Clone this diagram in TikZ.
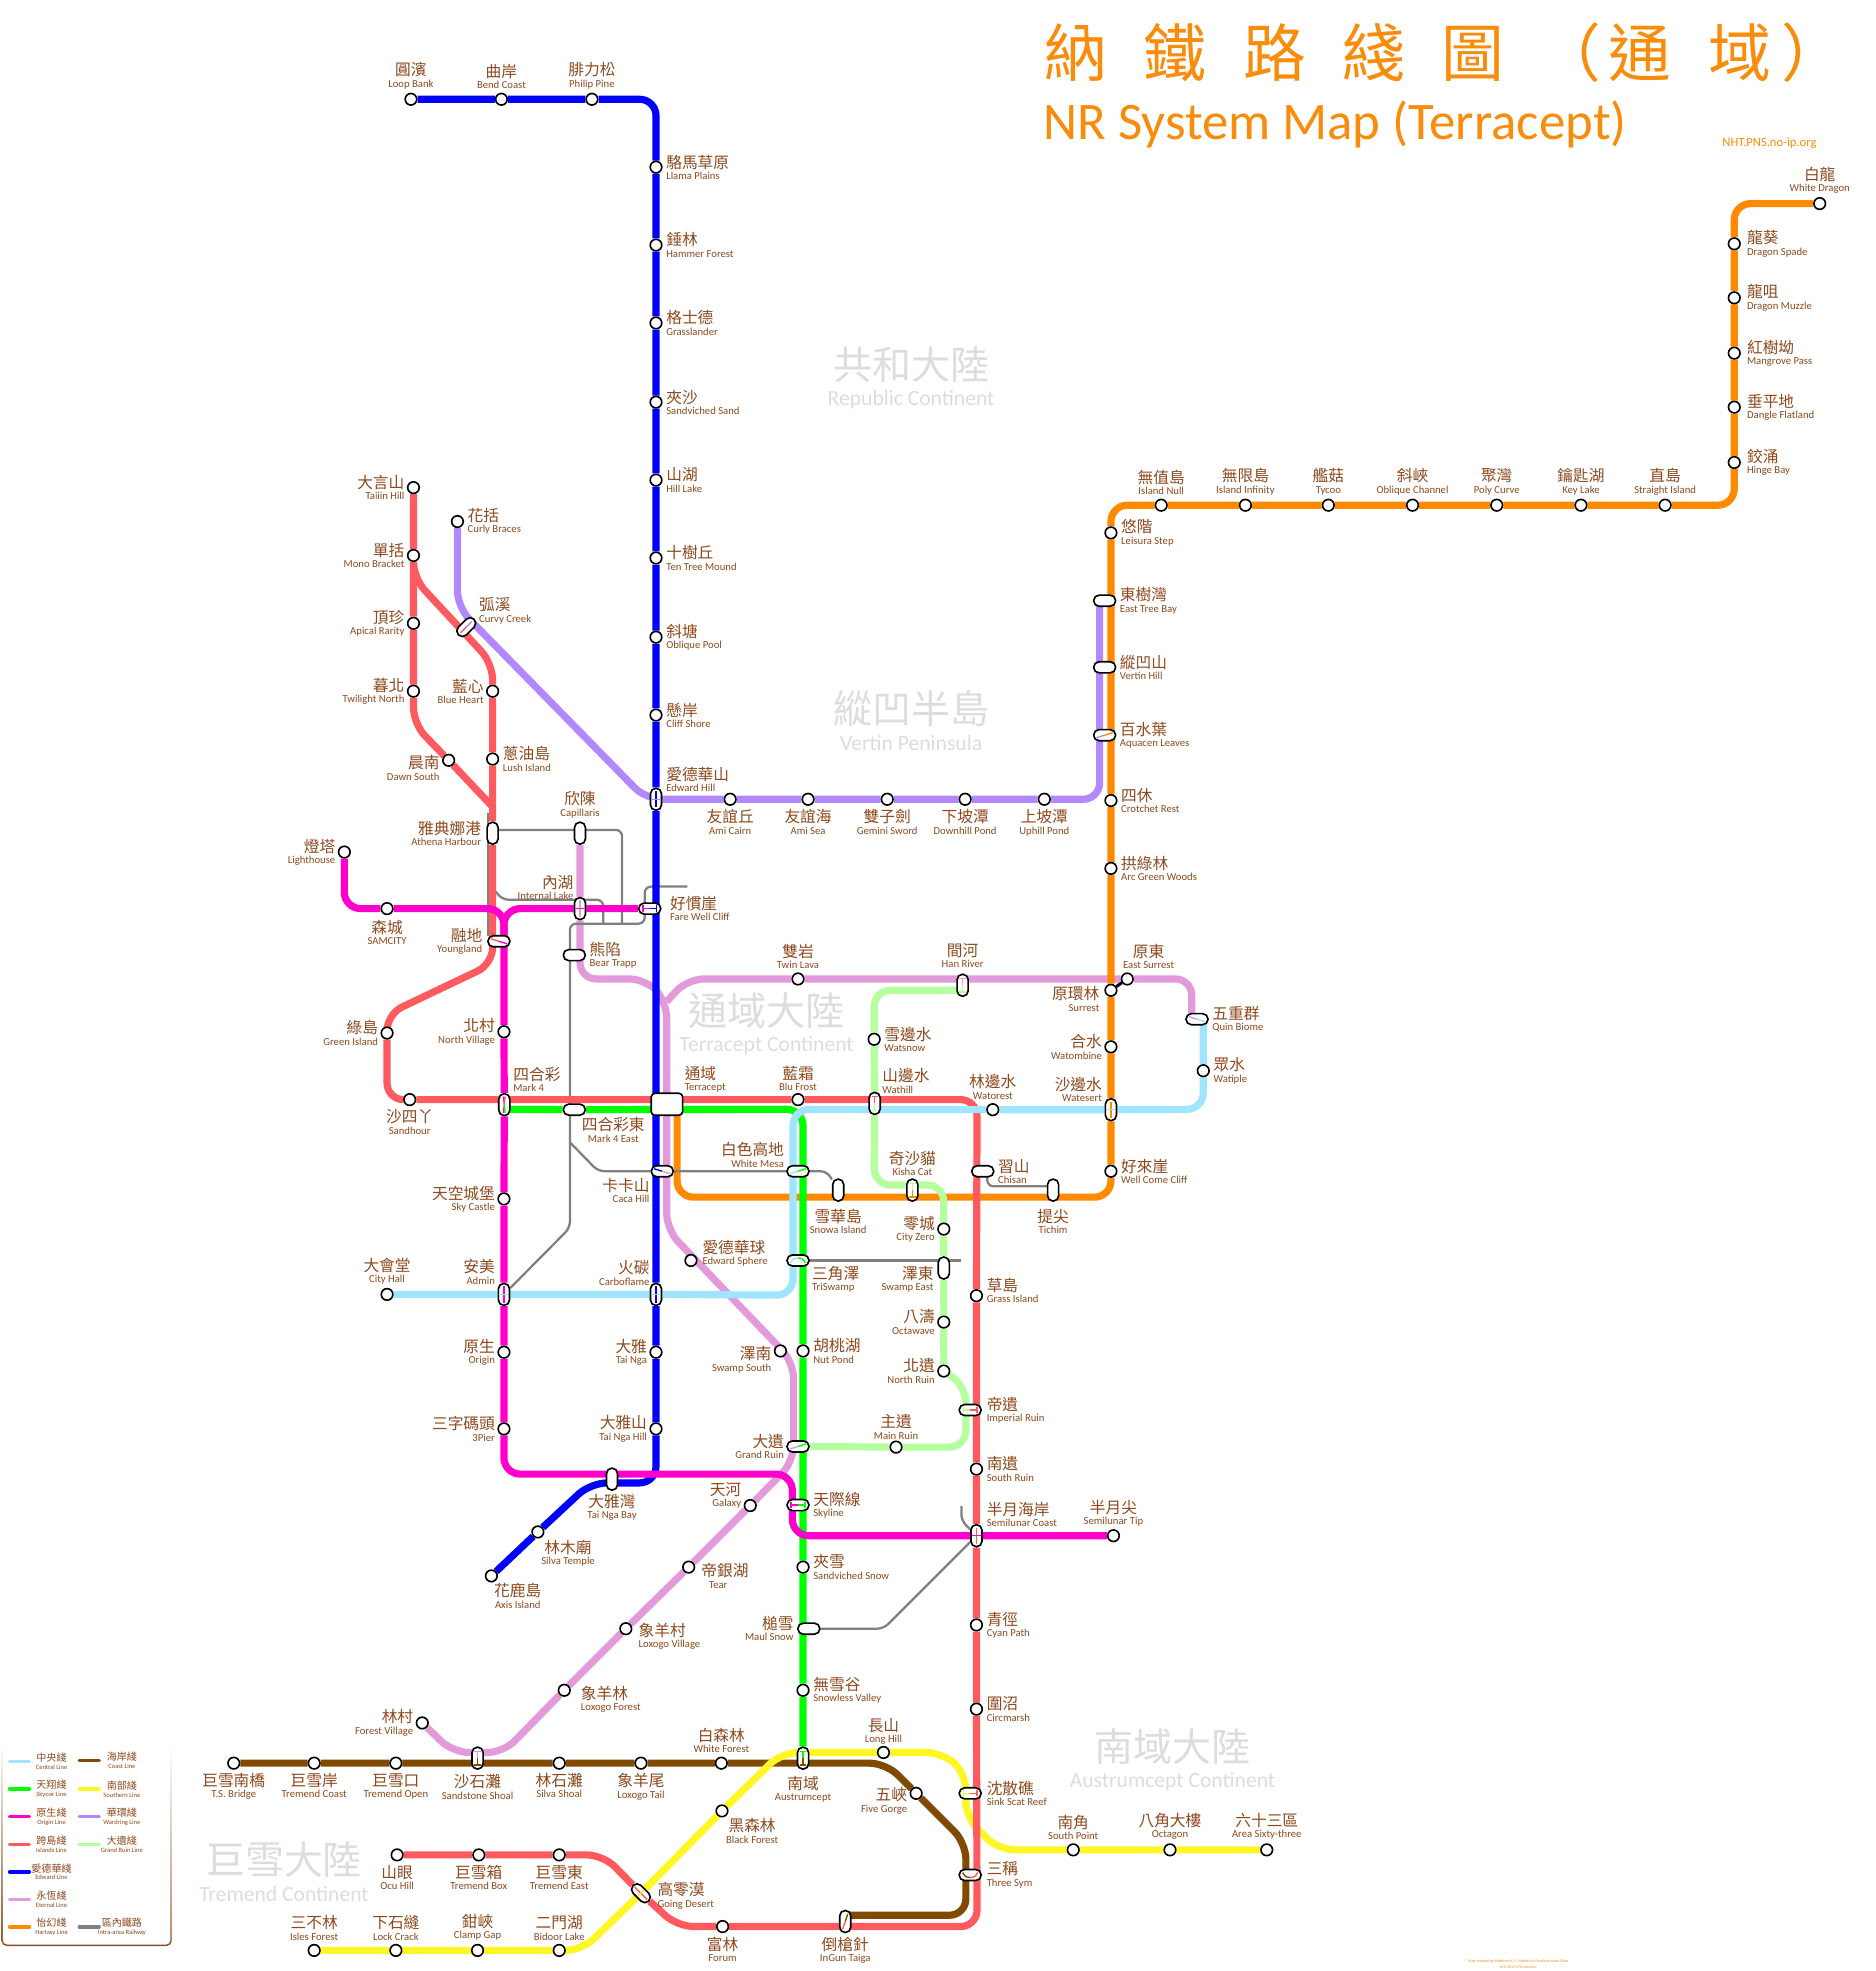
\documentclass[tikz,border=0pt]{standalone}
\usepackage{fontspec}
\usetikzlibrary{backgrounds,arrows.meta}
\newfontfamily\zhfont{Noto Sans CJK TC}
\newfontfamily\enfont{Carlito}

\definecolor{cCentral}{HTML}{9FE5FF}
\definecolor{cSkyoar}{HTML}{00FF00}
\definecolor{cOrigin}{HTML}{FF00CC}
\definecolor{cIslands}{HTML}{FF5A5F}
\definecolor{cEdward}{HTML}{0000FF}
\definecolor{cEternal}{HTML}{E29ADB}
\definecolor{cHartasy}{HTML}{FF8A00}
\definecolor{cCoast}{HTML}{804A00}
\definecolor{cSouthern}{HTML}{FFF724}
\definecolor{cWardring}{HTML}{B388FF}
\definecolor{cGrandRuin}{HTML}{B5FF9F}
\definecolor{cIntra}{HTML}{808080}
\definecolor{cLabel}{HTML}{8E4A1E}
\definecolor{cTitle}{HTML}{F98C0A}
\definecolor{cLand}{HTML}{DDDDDD}

\tikzset{
  stn/.style={circle,draw=black,fill=white,line width=1.3pt,inner sep=0pt,minimum size=9.2pt},
  capv/.style={rectangle,draw=black,fill=white,line width=1.3pt,inner sep=0pt,minimum width=8.8pt,minimum height=17.5pt,rounded corners=4.3pt},
  caph/.style={rectangle,draw=black,fill=white,line width=1.3pt,inner sep=0pt,minimum width=17.5pt,minimum height=8.8pt,rounded corners=4.3pt},
  hub/.style={rectangle,draw=black,fill=white,line width=1.3pt,inner sep=0pt,minimum width=25pt,minimum height=17.5pt,rounded corners=3pt},
  tag/.style={inner sep=0pt,text=cLabel,font=\enfont\fontsize{8.5}{9}\selectfont},
  lr/.style={anchor=west,xshift=8pt,align=left},
  ll/.style={anchor=east,xshift=-7pt,align=right},
  la/.style={anchor=south,yshift=8pt,align=center},
  lb/.style={anchor=north,yshift=-8pt,align=center},
  rail/.style={line width=5.7pt,rounded corners=13pt},
  intra/.style={draw=cIntra,line width=1.8pt,rounded corners=5pt},
  mk/.style={line width=1.1pt},
  tick/.style={-{Bar[width=5pt]}},
  land/.style={text=cLand,inner sep=0pt},
  swatch/.style={line width=2.6pt,line cap=round},
  keytag/.style={inner sep=0pt,text=cLabel,align=center,font=\enfont\fontsize{5.2}{6.2}\selectfont}
}

% station: style, name, position, label place, chinese, english
\newcommand{\stn}[6][stn]{%
  \node[#1] (#2) at (#3) {};
  \node[tag,#4] (#2t) at (#2) {{\zhfont\fontsize{12.5}{12.5}\selectfont #5}\\#6};}
\newcommand{\xlink}[6][]{%
  \draw[mk,#1,draw=#3,shift={(#2.center)}] (0,0) -- (#4);
  \draw[mk,#1,draw=#5,shift={(#2.center)}] (0,0) -- (#6);}
\newcommand{\xcross}[3]{%
  \draw[mk,draw=#2,shift={(#1.center)}] (0,-6.5) -- (0,6.5);
  \draw[mk,draw=#3,shift={(#1.center)}] (-3.5,0) -- (3.5,0);}
\newcommand{\xarc}[5]{%
  \draw[mk,draw=#2,shift={(#1.center)}] (-6,#4) .. controls (-4,#5) and (-2,#5) .. (0,#5);
  \draw[mk,draw=#3,shift={(#1.center)}] (6,#4) .. controls (4,#5) and (2,#5) .. (0,#5);}

\begin{document}
\begin{tikzpicture}[x=1pt,y=-1pt]
\useasboundingbox (0,0) rectangle (1492.8,1568.4);

% Edward line
\stn{loopbank}{327,79}{la}{圓濱}{Loop Bank}
\stn{bendcoast}{399,79}{la}{曲岸}{Bend Coast}
\stn{philippine}{471,79}{la}{腓力松}{Philip Pine}
\stn{llama}{522,133}{lr}{駱馬草原}{Llama Plains}
\stn{hammer}{522,195}{lr}{錘林}{Hammer Forest}
\stn{grassl}{522,257}{lr}{格士德}{Grasslander}
\stn{sandsand}{522,320}{lr}{夾沙}{Sandviched Sand}
\stn{hilllake}{522,382}{lr}{山湖}{Hill Lake}
\stn{tentree}{522,444}{lr}{十樹丘}{Ten Tree Mound}
\stn{oblpool}{522,507}{lr}{斜塘}{Oblique Pool}
\stn{cliffsh}{522,569}{lr}{懸岸}{Cliff Shore}
\stn[capv]{edwardhill}{522,636}{lr,yshift=16pt}{愛德華山}{Edward Hill}
\stn[caph]{farewell}{517,723}{lr,xshift=8pt}{好慣崖}{Fare Well Cliff}
\stn[hub]{terracept}{530.7,878.7}{lr,xshift=6pt,yshift=20pt}{通域}{Terracept}
\stn[caph]{caca}{527,932}{ll,xshift=-3pt,yshift=-15.5pt}{卡卡山}{Caca Hill}
\stn[capv]{carboflame}{522,1030}{ll,xshift=2pt,yshift=17pt}{火碳}{Carboflame}
\stn{tainga}{522,1076}{ll}{大雅}{Tai Nga}
\stn{taingahill}{522,1137}{ll}{大雅山}{Tai Nga Hill}
\stn[capv]{taingabay}{487,1177}{lb,yshift=-4pt}{大雅灣}{Tai Nga Bay}
\stn{silvatemple}{428,1219}{lb,xshift=24pt,yshift=2pt}{林木廟}{Silva Temple}
\stn{axis}{391,1254}{lb,xshift=21pt,yshift=2pt}{花鹿島}{Axis Island}

% Wardring line
\stn{curly}{364,415}{lr}{花括}{Curly Braces}
\stn[caph,rotate=45]{curvy}{371,499}{lr,xshift=2pt,yshift=13pt}{弧溪}{Curvy Creek}
\stn{amicairn}{581,636}{lb}{友誼丘}{Ami Cairn}
\stn{amisea}{643,636}{lb}{友誼海}{Ami Sea}
\stn{gemini}{706,636}{lb}{雙子劍}{Gemini Sword}
\stn{downhill}{768,636}{lb}{下坡潭}{Downhill Pond}
\stn{uphill}{831,636}{lb}{上坡潭}{Uphill Pond}
\stn[caph]{easttree}{879,478}{lr,xshift=4pt}{東樹灣}{East Tree Bay}
\stn[caph]{vertinhill}{879,531}{lr,xshift=4pt}{縱凹山}{Vertin Hill}
\stn[caph]{aquacen}{879,585}{lr,xshift=4pt}{百水葉}{Aquacen Leaves}

% Hartasy line
\stn{whitedragon}{1448,162}{la}{白龍}{White Dragon}
\stn{spade}{1380,194}{lr,xshift=2pt}{龍葵}{Dragon Spade}
\stn{muzzle}{1380,237}{lr,xshift=2pt}{龍咀}{Dragon Muzzle}
\stn{mangrove}{1380,281}{lr,xshift=2pt}{紅樹坳}{Mangrove Pass}
\stn{dangle}{1380,324}{lr,xshift=2pt}{垂平地}{Dangle Flatland}
\stn{hinge}{1380,368}{lr,xshift=2pt}{鉸涌}{Hinge Bay}
\stn{straight}{1325,402}{la}{直島}{Straight Island}
\stn{keylake}{1258,402}{la}{鑰匙湖}{Key Lake}
\stn{polycurve}{1191,402}{la}{聚灣}{Poly Curve}
\stn{oblchannel}{1124,402}{la}{斜峽}{Oblique Channel}
\stn{tycoo}{1057,402}{la}{艦菇}{Tycoo}
\stn{infinity}{991,402}{la}{無限島}{Island Infinity}
\stn{islandnull}{924,402}{la}{無值島}{Island Null}
\stn{leisura}{884,424}{lr}{悠階}{Leisura Step}
\stn{crotchet}{884,637}{lr}{四休}{Crotchet Rest}
\stn{arcgreen}{884,691}{lr}{拱綠林}{Arc Green Woods}
\stn{surrest}{884,788}{ll,xshift=-2pt,yshift=-7pt}{原環林}{Surrest}
\stn{watombine}{884,833}{ll}{合水}{Watombine}
\stn[capv]{watesert}{884,883}{ll,yshift=16pt}{沙邊水}{Watesert}
\stn{wellcome}{884,932}{lr}{好來崖}{Well Come Cliff}
\stn[capv]{tichim}{838,947}{lb,yshift=-7pt}{提尖}{Tichim}
\stn[capv]{kisha}{726,947}{la,yshift=3pt}{奇沙貓}{Kisha Cat}
\stn[capv]{snowa}{667,947}{lb,yshift=-7pt}{雪華島}{Snowa Island}

% Islands line
\stn{taiiin}{329,388}{ll}{大言山}{Taiiin Hill}
\stn{mono}{329,442}{ll}{單括}{Mono Bracket}
\stn{apical}{329,496}{ll}{頂珍}{Apical Rarity}
\stn{twilight}{329,550}{ll}{暮北}{Twilight North}
\stn{dawn}{357,605}{ll,yshift=-6pt}{晨南}{Dawn South}
\stn{blueheart}{392,550}{ll}{藍心}{Blue Heart}
\stn{lush}{392,604}{lr}{蔥油島}{Lush Island}
\stn[capv]{athena}{392,663}{ll,xshift=-2pt}{雅典娜港}{Athena Harbour}
\stn[caph]{youngland}{397,749}{ll,xshift=-6pt}{融地}{Youngland}
\stn{greenisland}{308,822}{ll}{綠島}{Green Island}
\stn{sandhour}{326,875}{lb}{沙四丫}{Sandhour}
\stn[capv]{markfour}{401.3,879}{lr,xshift=-1pt,yshift=20pt}{四合彩}{Mark 4}
\stn{blufrost}{635,875}{la,yshift=-1pt}{藍霜}{Blu Frost}
\stn[capv]{wathill}{696,878}{lr,xshift=-2pt,yshift=18pt}{山邊水}{Wathill}
\stn{watorest}{790,883}{la}{林邊水}{Watorest}
\stn{grassisland}{777,1031}{lr,yshift=4pt}{草島}{Grass Island}
\stn[caph]{imperial}{772,1122}{lr,xshift=5pt}{帝遺}{Imperial Ruin}
\stn{southruin}{777,1169}{lr}{南遺}{South Ruin}
\stn[capv]{semicoast}{777,1222}{lr,yshift=17pt}{半月海岸}{Semilunar Coast}
\stn{semitip}{886,1222}{la,yshift=-1pt}{半月尖}{Semilunar Tip}
\stn{cyanpath}{777,1293}{lr}{青徑}{Cyan Path}
\stn{circmarsh}{777,1360}{lr}{圍沼}{Circmarsh}
\stn[caph]{sinkscat}{772,1427}{lr,xshift=5pt}{沈散礁}{Sink Scat Reef}
\stn[caph]{threesym}{772,1492}{lr,xshift=5pt}{三稱}{Three Sym}
\stn[capv]{ingun}{672.6,1529}{lb,yshift=-4pt}{倒槍針}{InGun Taiga}
\stn{forum}{575,1533}{lb}{富林}{Forum}
\stn[caph,rotate=-45]{goingdesert}{510,1506.5}{lr,xshift=5pt,yshift=-2pt}{高零漠}{Going Desert}
\stn{tremeast}{445,1476}{lb}{巨雪東}{Tremend East}
\stn{trembox}{381,1476}{lb}{巨雪箱}{Tremend Box}
\stn{ocuhill}{316,1476}{lb}{山眼}{Ocu Hill}

% Coast line
\stn{tsbridge}{186,1403}{lb}{巨雪南橋}{T.S. Bridge}
\stn{tremcoast}{250,1403}{lb}{巨雪岸}{Tremend Coast}
\stn{tremopen}{315,1403}{lb}{巨雪口}{Tremend Open}
\stn[capv]{sandstone}{380,1399}{lb,yshift=-5pt}{沙石灘}{Sandstone Shoal}
\stn{silvashoal}{445,1403}{lb}{林石灘}{Silva Shoal}
\stn{loxotail}{510,1403}{lb}{象羊尾}{Loxogo Tail}
\stn{whiteforest}{574,1403}{la}{白森林}{White Forest}
\stn[capv]{austrum}{639,1399}{lb,yshift=-6pt}{南域}{Austrumcept}
\stn{fivegorge}{729,1427}{ll,yshift=-6pt}{五峽}{Five Gorge}

% Southern line
\stn{isles}{250,1552}{la}{三不林}{Isles Forest}
\stn{lockcrack}{315,1552}{la}{下石縫}{Lock Crack}
\stn{clampgap}{380,1552}{la}{鉗峽}{Clamp Gap}
\stn{bidoor}{445,1552}{la}{二門湖}{Bidoor Lake}
\stn{blackforest}{574.5,1441}{lb,xshift=24pt,yshift=2pt}{黑森林}{Black Forest}
\stn{longhill}{703,1394.5}{la,yshift=-2pt}{長山}{Long Hill}
\stn{southpoint}{854,1472}{la}{南角}{South Point}
\stn{octagon}{931,1472}{la}{八角大樓}{Octagon}
\stn{areasixty}{1008,1472}{la}{六十三區}{Area Sixty-three}

% Eternal line
\stn{forestvil}{336,1371}{ll}{林村}{Forest Village}
\stn{loxoforest}{449,1345}{lr,xshift=5pt,yshift=-7pt}{象羊林}{Loxogo Forest}
\stn{loxovillage}{498,1296}{lr,xshift=2pt,yshift=-6pt}{象羊村}{Loxogo Village}
\stn{tear}{548,1247}{lr,xshift=2pt,yshift=-7pt}{帝銀湖}{\hspace*{6pt}Tear}
\stn{galaxy}{597,1198}{ll,yshift=8pt}{天河}{Galaxy}
\stn{swampsouth}{621,1075}{ll,yshift=-7pt}{澤南}{Swamp South}
\stn{edsphere}{549.8,1003}{lr,xshift=1pt,yshift=6pt}{愛德華球}{Edward Sphere}
\stn{twinlava}{635,779}{la}{雙岩}{Twin Lava}
\stn[capv]{hanriver}{766,784}{la,yshift=6pt}{間河}{Han River}
\stn{eastsurrest}{897,779}{la,xshift=17pt}{原東}{East Surrest}
\stn[caph]{quin}{952.5,811}{lr,xshift=4pt}{五重群}{Quin Biome}
\stn[caph]{bear}{457,760}{lr,xshift=4pt}{熊陷}{Bear Trapp}
\stn[capv]{internal}{461.5,723}{ll,xshift=2pt,yshift=17pt}{內湖}{Internal Lake}
\stn[capv]{capillaris}{461.5,663}{la,yshift=4pt}{欣陳}{Capillaris}
\stn[caph]{grandruin}{635,1151}{ll,xshift=-4pt}{大遺}{Grand Ruin}

% Skyoar line
\stn[caph]{markfoure}{457,883}{lb,xshift=31pt,yshift=2pt}{四合彩東}{Mark 4 East}
\stn[caph]{whitemesa}{635,932}{ll,xshift=-4pt,yshift=13pt}{白色高地}{White Mesa}
\stn[caph]{triswamp}{635,1003}{lr,xshift=3pt,yshift=-15pt}{三角澤}{TriSwamp}
\stn{nutpond}{639,1075}{lr}{胡桃湖}{Nut Pond}
\stn[caph]{skyline}{635,1197.6}{lr,xshift=4pt}{天際線}{Skyline}
\stn{sandsnow}{639,1247}{lr}{夾雪}{Sandviched Snow}
\stn[caph]{maulsnow}{643.6,1296}{ll,xshift=-5pt}{槌雪}{Maul Snow}
\stn{snowless}{639,1345}{lr}{無雪谷}{Snowless Valley}

% Origin line
\stn{lighthouse}{274,678}{ll}{燈塔}{Lighthouse}
\stn{samcity}{308,723}{lb,yshift=-1pt}{森城}{SAMCITY}
\stn{northvil}{401,821}{ll}{北村}{North Village}
\stn{skycastle}{401,954}{ll}{天空城堡}{Sky Castle}
\stn[capv]{admin}{401,1030}{ll,yshift=18pt}{安美}{Admin}
\stn{origin}{401,1076}{ll}{原生}{Origin}
\stn{threepier}{401,1137}{ll}{三字碼頭}{3Pier}

% Central line
\stn{cityhall}{308,1030}{la}{大會堂}{City Hall}
\stn{watiple}{957.5,852}{lr}{眾水}{Watiple}

% Grand Ruin line
\stn{watsnow}{695.6,827}{lr}{雪邊水}{Watsnow}
\stn[caph]{chisan}{782,932}{lr,xshift=4pt}{習山}{Chisan}
\stn{cityzero}{751,978}{ll}{零城}{City Zero}
\stn[capv]{swampeast}{751,1009}{ll,xshift=-1pt,yshift=-9pt}{澤東}{Swamp East}
\stn{octawave}{751,1052}{ll}{八濤}{Octawave}
\stn{northruin}{751,1091}{ll}{北遺}{North Ruin}
\stn{mainruin}{713,1151.5}{la,yshift=-2pt}{主遺}{Main Ruin}

% free ends of the lines
\coordinate (wardEnd) at (875,478);
\coordinate (hartEnd) at (538.8,884);
\coordinate (eternEnd) at (948.3,811);
\coordinate (centEnd) at (957.5,811);
\coordinate (skyStart) at (401,882.7);
\coordinate (ruinStart) at (766,788);
\coordinate (coastEnd) at (672.6,1524);
\coordinate (originFork) at (401,750);
\coordinate (gAthena) at (392,660.4);
\coordinate (gRedTop) at (388.5,647);
\coordinate (gRedEnd) at (388.5,745);
\coordinate (gStubA) at (393,708);
\coordinate (gStubB) at (480,735);
\coordinate (gFare) at (547,705.5);
\coordinate (gChisan) at (785.6,935);
\coordinate (gTichim) at (838,944);
\coordinate (gSwamp) at (765,1003);
\coordinate (gSemi) at (765,1198.5);
\coordinate (gTri) at (635,1003);

\begin{scope}[on background layer]
  \fill[white] (0,0) rectangle (1492.8,1568.4);

  \node[land,font=\zhfont\fontsize{31}{31}\selectfont] (landA) at (725,290) {共和大陸};
  \node[land,font=\enfont\fontsize{17.2}{17.2}\selectfont] (landAe) at (725,318) {Republic Continent};
  \node[land,font=\zhfont\fontsize{31}{31}\selectfont] (landB) at (725,564) {縱凹半島};
  \node[land,font=\enfont\fontsize{17.2}{17.2}\selectfont] (landBe) at (725,591) {Vertin Peninsula};
  \node[land,font=\zhfont\fontsize{31}{31}\selectfont] (landC) at (610,804) {通域大陸};
  \node[land,font=\enfont\fontsize{17.2}{17.2}\selectfont] (landCe) at (610,832) {Terracept Continent};
  \node[land,font=\zhfont\fontsize{31}{31}\selectfont] (landD) at (933,1390) {南域大陸};
  \node[land,font=\enfont\fontsize{17.2}{17.2}\selectfont] (landDe) at (933,1418) {Austrumcept Continent};
  \node[land,font=\zhfont\fontsize{31}{31}\selectfont] (landE) at (226,1480) {巨雪大陸};
  \node[land,font=\enfont\fontsize{17.2}{17.2}\selectfont] (landEe) at (226,1507) {Tremend Continent};

  \draw[rail,cEternal] (forestvil) -- (360.6,1394.6) -- (400.5,1394.6) -- (loxoforest) -- (loxovillage) -- (tear) -- (galaxy)
    -- (631.5,1163) -- (631.5,1084) -- (530.5,978.5) -- (530.5,797) -- (514,779) -- (461.5,779) -- (internal) -- (capillaris);
  \draw[rail,cEternal] (530.5,797) -- (547,779) -- (twinlava) -- (eastsurrest) -- (948.3,779) -- (eternEnd);
  \draw[rail,cWardring] (curly) -- (364,483) -- (514,636) -- (amicairn) -- (amisea) -- (gemini) -- (downhill) -- (uphill)
    -- (875,636) -- (wardEnd);
  \draw[rail,cHartasy] (whitedragon) -- (1380,162) -- (spade) -- (muzzle) -- (mangrove) -- (dangle) -- (hinge) -- (1380,402)
    -- (straight) -- (keylake) -- (polycurve) -- (oblchannel) -- (tycoo) -- (infinity) -- (islandnull) -- (884,402)
    -- (leisura) -- (crotchet) -- (arcgreen) -- (surrest) -- (watombine) -- (watesert) -- (wellcome)
    -- (884,952.6) -- (538.8,952.6) -- (hartEnd);

  \draw[intra] (gAthena) -- (495,660.4) -- (495,735);
  \draw[intra] (gRedTop) -- (gRedEnd);
  \draw[intra] (gStubA) -- (400,716) -- (480,716) -- (gStubB);
  \draw[intra] (gFare) -- (513,705.5) -- (513,735) -- (453.5,735) -- (453.5,977) -- (admin);
  \draw[intra] (453.5,909) -- (476,932) -- (caca) -- (whitemesa) -- (658,932) -- (snowa);
  \draw[intra] (gChisan) -- (785.6,944) -- (gTichim);
  \draw[intra] (gTri) -- (gSwamp);
  \draw[intra] (maulsnow) -- (703,1296) -- (semicoast);
  \draw[intra] (gSemi) -- (765,1210) -- (semicoast);

  \draw[rail,cGrandRuin] (ruinStart) -- (695.6,788) -- (watsnow) -- (wathill) -- (695.6,943) -- (751,943) -- (cityzero)
    -- (swampeast) -- (octawave) -- (northruin) -- (768.6,1103) -- (768.6,1151.5) -- (mainruin) -- (grandruin);
  \draw[rail,cCoast] (tsbridge) -- (tremcoast) -- (tremopen) -- (silvashoal) -- (loxotail) -- (whiteforest) -- (705,1403)
    -- (fivegorge) -- (768.6,1466.5) -- (768.6,1524) -- (coastEnd);
  \draw[rail,cSouthern] (isles) -- (lockcrack) -- (clampgap) -- (bidoor) -- (463,1552) -- (goingdesert) -- (blackforest)
    -- (622,1394.5) -- (longhill) -- (750,1394.5) -- (768.5,1411) -- (768.5,1446) -- (794.5,1472) -- (southpoint)
    -- (octagon) -- (areasixty);
  \draw[rail,cIslands] (taiiin) -- (mono) -- (apical) -- (twilight) -- (329,576) -- (dawn) -- (392,642);
  \draw[rail,cIslands] (mono) -- (329,460) -- (392,528) -- (blueheart) -- (lush) -- (athena) -- (392,767) -- (308,807)
    -- (greenisland) -- (308,875) -- (sandhour) -- (blufrost) -- (777.5,875) -- (grassisland) -- (southruin) -- (semicoast)
    -- (cyanpath) -- (circmarsh) -- (777.5,1533) -- (forum) -- (539,1533) -- (goingdesert) -- (480,1476) -- (tremeast)
    -- (trembox) -- (ocuhill);
  \draw[rail,cSkyoar] (skyStart) -- (markfoure) -- (639,882.7) -- (nutpond) -- (sandsnow) -- (snowless) -- (austrum);
  \draw[rail,cCentral] (cityhall) -- (admin) -- (carboflame) -- (631,1030.6) -- (631,882.7) -- (watorest) -- (watesert)
    -- (957.5,882.7) -- (watiple) -- (centEnd);
  \draw[rail,cEdward] (loopbank) -- (bendcoast) -- (philippine) -- (522,79) -- (llama) -- (hammer) -- (grassl) -- (sandsand)
    -- (hilllake) -- (tentree) -- (oblpool) -- (cliffsh) -- (edwardhill) -- (carboflame) -- (tainga) -- (taingahill)
    -- (522,1180) -- (470,1180) -- (silvatemple) -- (axis);
  \draw[rail,cOrigin] (lighthouse) -- (274,723) -- (samcity) -- (401,723) -- (northvil) -- (markfour) -- (skycastle) -- (admin)
    -- (origin) -- (threepier) -- (401,1173) -- (630.5,1173) -- (630.5,1222) -- (semicoast) -- (semitip);
  \draw[rail,cOrigin] (originFork) -- (401,723) -- (internal) -- (farewell);
\end{scope}

% marks inside the interchanges
\xcross{edwardhill}{cEdward}{cWardring}
\xcross{carboflame}{cEdward}{cCentral}
\xcross{admin}{cOrigin}{cCentral}
\xcross{watesert}{cHartasy}{cCentral}
\xcross{internal}{cEternal}{cOrigin}
\xcross{semicoast}{cIslands}{cOrigin}
\xlink{markfour}{cOrigin}{-0.6,-6.5}{cOrigin}{-0.6,6.5}
\xlink{markfour}{cIslands}{0.6,-6.5}{cSkyoar}{0.6,6.5}
\xlink[tick]{farewell}{cOrigin}{-6,0}{cEdward}{6,0}
\xlink[tick]{skyline}{cOrigin}{-6,0}{cSkyoar}{6,0}
\xlink[tick]{imperial}{cGrandRuin}{-6,0}{cIslands}{6,0}
\xlink[tick]{sinkscat}{cSouthern}{-6,0}{cIslands}{6,0}
\xlink[tick]{wathill}{cIslands}{0,-6}{cGrandRuin}{0,6}
\xlink[tick]{kisha}{cGrandRuin}{0,-6}{cHartasy}{0,6}
\xlink[tick]{sandstone}{cEternal}{0,-6}{cCoast}{0,6}
\xlink[tick]{austrum}{cSkyoar}{0,-6}{cCoast}{0,6}
\xlink[tick]{hanriver}{cEternal}{0,-6}{cGrandRuin}{0,6}
\xlink{youngland}{cIslands}{-6.5,-2}{cOrigin}{6.5,2}
\xlink{caca}{cEdward}{-6.5,-2}{cEternal}{6.5,2}
\xlink{whitemesa}{cCentral}{-6.5,2}{cSkyoar}{6.5,-2}
\xlink{grandruin}{cEternal}{-6.5,2}{cSkyoar}{6.5,-2}
\xlink{quin}{cEternal}{-6.5,-2}{cCentral}{6.5,2}
\xlink{aquacen}{cWardring}{-6.5,2}{cHartasy}{6.5,-2}
\xlink{curvy}{cWardring}{4.5,-4.5}{cIslands}{-4.5,4.5}
\xlink{ingun}{cCoast}{2,-6}{cIslands}{-2,6}
\xlink{goingdesert}{cIslands}{-5,-5}{cIslands}{5,5}
\xlink{goingdesert}{cSouthern}{2.5,-2.5}{cSouthern}{-2.5,2.5}
\xarc{triswamp}{cCentral}{cSkyoar}{2}{-2}
\xarc{threesym}{cCoast}{cIslands}{-2}{2}

% short black link between the two Surrest stops
\draw[line width=2.4pt] (surrest) -- (eastsurrest);

% title
\node[anchor=west,inner sep=0pt,text=cTitle,font=\zhfont\fontsize{50}{50}\selectfont] (title) at (831,42)
  {納\hspace{29pt}鐵\hspace{29pt}路\hspace{29pt}綫\hspace{29pt}圖\hspace{27pt}（\hspace{6pt}通\hspace{29pt}域\hspace{8pt}）};
\node[anchor=west,inner sep=0pt,text=cTitle,font=\enfont\fontsize{42}{42}\selectfont] (titleen) at (830,99) {NR System Map (Terracept)};
\node[inner sep=0pt,text=cTitle,font=\enfont\fontsize{10}{10}\selectfont] (site) at (1408,114) {NHT.PNS.no-ip.org};
\node[inner sep=0pt,text=cTitle,align=center,font=\enfont\fontsize{3.2}{4.6}\selectfont] (credit) at (1208,1563)
  {Map created by Matthew K. C. Nahoh by Omnicus Naoe Chan\\6/9/2011 57th version};

% legend
\shade[top color=white,bottom color=cLabel,rounded corners=4pt] (1.3,1387) rectangle (136.6,1548.5);
\fill[white,rounded corners=3.4pt] (2.3,1388) rectangle (135.6,1547.3);
\foreach \id/\col/\y/\zh/\en in {a/cCentral/1401.8/中央綫/Central Line,b/cSkyoar/1423.6/天翔綫/Skyoar Line,
    c/cOrigin/1445.6/原生綫/Origin Line,d/cIslands/1467.5/跨島綫/Islands Line,e/cEdward/1489.5/愛德華綫/Edward Line,
    f/cEternal/1511.5/永恆綫/Eternal Line,g/cHartasy/1533.4/怡幻綫/Hartasy Line}{
  \draw[swatch,\col] (7.6,\y) -- (23.4,\y);
  \node[keytag] (key\id) at (41,\y) {{\zhfont\fontsize{8}{8}\selectfont \zh}\\\en};
}
\foreach \id/\col/\y/\zh/\en in {h/cCoast/1400.8/海岸綫/Coast Line,i/cSouthern/1423.6/南部綫/Southern Line,
    j/cWardring/1445.6/華環綫/Wardring Line,k/cGrandRuin/1467.5/大遺綫/Grand Ruin Line,l/cIntra/1533.4/區內鐵路/Intra-area Railway}{
  \draw[swatch,\col] (63,\y) -- (79,\y);
  \node[keytag] (key\id) at (97,\y) {{\zhfont\fontsize{8}{8}\selectfont \zh}\\\en};
}
\end{tikzpicture}
\end{document}
